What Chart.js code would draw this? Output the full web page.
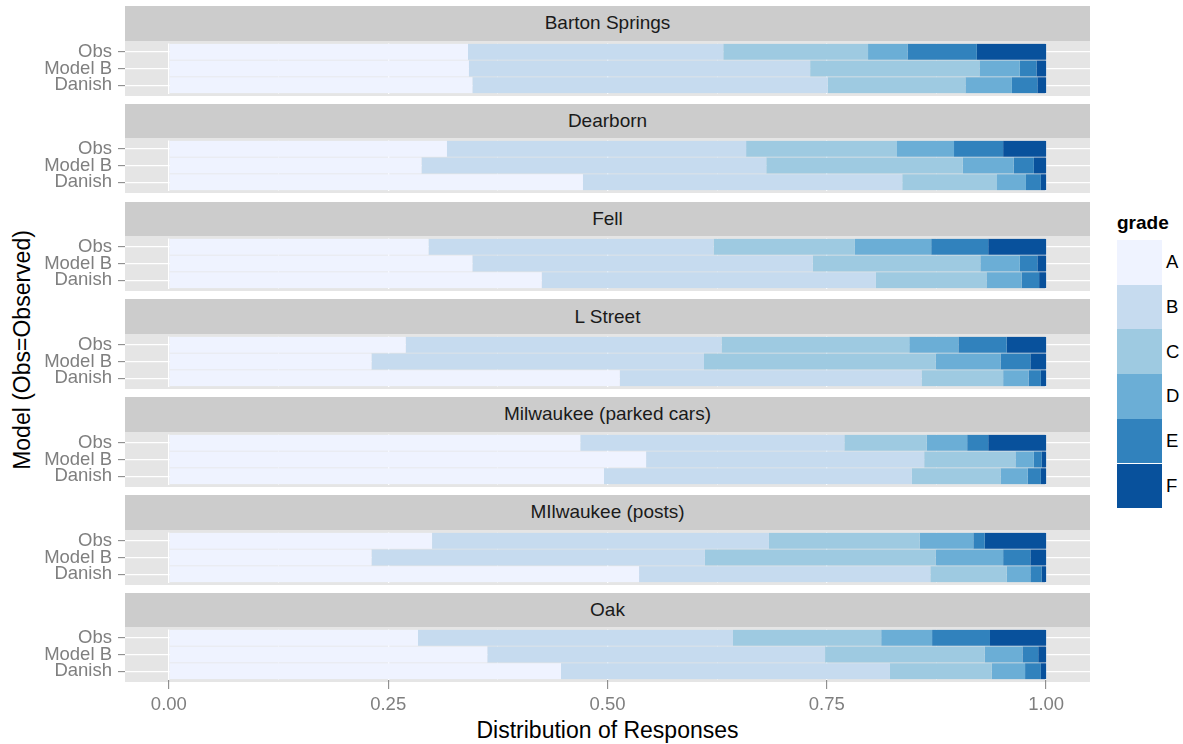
<!DOCTYPE html>
<html>
<head>
<meta charset="utf-8">
<script src="https://cdn.jsdelivr.net/npm/chart.js@4/dist/chart.umd.min.js"></script>
<style>
  html, body { margin: 0; padding: 0; background: #ffffff; }
  body { width: 1183px; height: 744px; position: relative; overflow: hidden; font-family: "Liberation Sans", Arial, sans-serif; }
  .strip { position: absolute; left: 125px; width: 965px; height: 34.5px; background: #cccccc; color: #1a1a1a;
           font-size: 19px; display: flex; align-items: center; justify-content: center; }
  canvas.facet { position: absolute; left: 0; }
  .ytitle { position: absolute; left: 22px; top: 350px; transform: translate(-50%, -50%) rotate(-90deg);
            font-size: 23px; color: #000; white-space: nowrap; }
  .xtitle { position: absolute; left: 607.5px; top: 730px; transform: translate(-50%, -50%);
            font-size: 23px; color: #000; white-space: nowrap; }
  .lg-title { position: absolute; left: 1117px; top: 212px; font-size: 19px; font-weight: bold; color: #000; }
  .lg-key { position: absolute; left: 1117px; width: 45px; }
  .lg-label { position: absolute; left: 1166px; font-size: 18.5px; color: #000; transform: translateY(-50%); }
</style>
</head>
<body>
<div class="ytitle">Model (Obs=Observed)</div>
<div class="xtitle">Distribution of Responses</div>
<div class="lg-title">grade</div>

<script>
// shares of each grade (A..F) per model row
const facetNames = ["Barton Springs", "Dearborn", "Fell", "L Street", "Milwaukee (parked cars)", "MIlwaukee (posts)", "Oak"];
const models = ["Obs", "Model B", "Danish"];
const grades = ["A", "B", "C", "D", "E", "F"];
const gradeColors = ["#eff3ff", "#c6dbef", "#9ecae1", "#6baed6", "#3182bd", "#08519c"];
const xTickLabels = [0, 0.25, 0.5, 0.75, 1];

const bartonSprings = [
  [0.341, 0.291, 0.165, 0.045, 0.079, 0.079],
  [0.342, 0.389, 0.193, 0.046, 0.019, 0.011],
  [0.346, 0.405, 0.157, 0.053, 0.029, 0.010],
];
const dearborn = [
  [0.317, 0.341, 0.172, 0.065, 0.056, 0.049],
  [0.288, 0.393, 0.224, 0.058, 0.023, 0.014],
  [0.472, 0.364, 0.108, 0.033, 0.017, 0.006],
];
const fell = [
  [0.296, 0.325, 0.161, 0.087, 0.065, 0.066],
  [0.346, 0.388, 0.191, 0.045, 0.020, 0.010],
  [0.425, 0.381, 0.126, 0.040, 0.020, 0.008],
];
const lStreet = [
  [0.270, 0.360, 0.214, 0.056, 0.055, 0.045],
  [0.231, 0.379, 0.264, 0.074, 0.034, 0.018],
  [0.514, 0.344, 0.093, 0.029, 0.014, 0.006],
];
const milwaukeeCars = [
  [0.469, 0.301, 0.094, 0.046, 0.024, 0.066],
  [0.544, 0.317, 0.104, 0.021, 0.009, 0.005],
  [0.496, 0.351, 0.101, 0.031, 0.015, 0.006],
];
const milwaukeePosts = [
  [0.300, 0.384, 0.172, 0.061, 0.013, 0.070],
  [0.231, 0.380, 0.263, 0.077, 0.031, 0.018],
  [0.536, 0.332, 0.087, 0.027, 0.013, 0.005],
];
const oak = [
  [0.284, 0.359, 0.169, 0.058, 0.066, 0.064],
  [0.363, 0.385, 0.182, 0.043, 0.018, 0.009],
  [0.447, 0.375, 0.116, 0.038, 0.018, 0.006],
];
const facetData = [bartonSprings, dearborn, fell, lStreet, milwaukeeCars, milwaukeePosts, oak];

const FONT = '"Liberation Sans", Arial, sans-serif';
const PITCH = 97.8;
const STRIP_H = 34.5;
const PANEL_H = 55;
const PAD_V = 2.5;
const AXIS_H = 45;

function isMajor(v) {
  return xTickLabels.some((t) => Math.abs(t - v) < 1e-9);
}

const panelBg = {
  id: "panelBg",
  beforeDraw(chart) {
    const a = chart.chartArea;
    const c = chart.ctx;
    c.save();
    c.fillStyle = "#e5e5e5";
    c.fillRect(a.left, a.top - PAD_V, a.right - a.left, a.bottom - a.top + 2 * PAD_V);
    c.restore();
  },
};

function buildFacet(i) {
  const last = i === facetData.length - 1;
  const top = 6 + i * PITCH;

  const strip = document.createElement("div");
  strip.className = "strip";
  strip.style.top = top + "px";
  strip.textContent = facetNames[i];
  document.body.appendChild(strip);

  const canvas = document.createElement("canvas");
  canvas.className = "facet";
  canvas.width = 1090;
  canvas.height = PANEL_H + (last ? AXIS_H : 0);
  canvas.style.top = top + STRIP_H + "px";
  document.body.appendChild(canvas);

  const rows = facetData[i];
  const datasets = grades.map((g, k) => ({
    label: g,
    data: rows.map((r) => r[k]),
    backgroundColor: gradeColors[k],
    borderWidth: 0,
    barPercentage: 0.96,
    categoryPercentage: 1,
  }));

  new Chart(canvas.getContext("2d"), {
    type: "bar",
    data: { labels: models, datasets },
    plugins: [panelBg],
    options: {
      indexAxis: "y",
      responsive: false,
      animation: false,
      devicePixelRatio: 1,
      layout: { padding: { top: PAD_V, bottom: last ? 0 : PAD_V, left: 0, right: 0 } },
      plugins: { legend: { display: false }, tooltip: { enabled: false } },
      scales: {
        x: {
          stacked: true,
          min: -0.05,
          max: 1.05,
          afterBuildTicks: (s) => {
            const t = [];
            for (let j = 0; j < xTickLabels.length; j++) {
              t.push({ value: xTickLabels[j] });
              if (j < xTickLabels.length - 1) t.push({ value: (xTickLabels[j] + xTickLabels[j + 1]) / 2 });
            }
            s.ticks = t;
          },
          afterFit: (s) => {
            s.height = last ? AXIS_H + PAD_V : 0;
            s.paddingLeft = 0;
            s.paddingRight = 0;
          },
          border: { display: false },
          grid: {
            color: (c) => (isMajor(c.tick.value) ? "#ffffff" : "#f7f7f7"),
            lineWidth: (c) => (isMajor(c.tick.value) ? 1.3 : 0.6),
            drawTicks: last,
            tickLength: 9.5,
            tickColor: (c) => (isMajor(c.tick.value) ? "#7f7f7f" : "rgba(0,0,0,0)"),
            tickWidth: 1,
          },
          ticks: {
            display: last,
            autoSkip: false,
            maxRotation: 0,
            padding: 5,
            color: "#7f7f7f",
            font: { family: FONT, size: 18.5 },
            callback: (v) => (isMajor(v) ? Number(v).toFixed(2) : ""),
          },
        },
        y: {
          stacked: true,
          afterFit: (s) => {
            s.width = 125;
            s.paddingTop = 0;
            s.paddingBottom = 0;
          },
          border: { display: false },
          grid: {
            offset: false,
            color: "#ffffff",
            lineWidth: 1.3,
            tickLength: 7,
            tickColor: "#7f7f7f",
            tickWidth: 1,
          },
          ticks: {
            autoSkip: false,
            padding: 6,
            color: "#7f7f7f",
            font: { family: FONT, size: 18.5 },
          },
        },
      },
    },
  });
}

function buildLegend() {
  const keyTop = 240;
  const keyH = 44.7;
  grades.forEach((g, k) => {
    const key = document.createElement("div");
    key.className = "lg-key";
    key.style.top = keyTop + k * keyH + "px";
    key.style.height = keyH + "px";
    key.style.background = gradeColors[k];
    document.body.appendChild(key);

    const lab = document.createElement("div");
    lab.className = "lg-label";
    lab.style.top = keyTop + k * keyH + keyH / 2 + "px";
    lab.textContent = g;
    document.body.appendChild(lab);
  });
}

document.addEventListener("DOMContentLoaded", function () {
  if (typeof Chart !== "function") return;
  for (let i = 0; i < facetData.length; i++) buildFacet(i);
  buildLegend();
});
</script>
</body>
</html>
